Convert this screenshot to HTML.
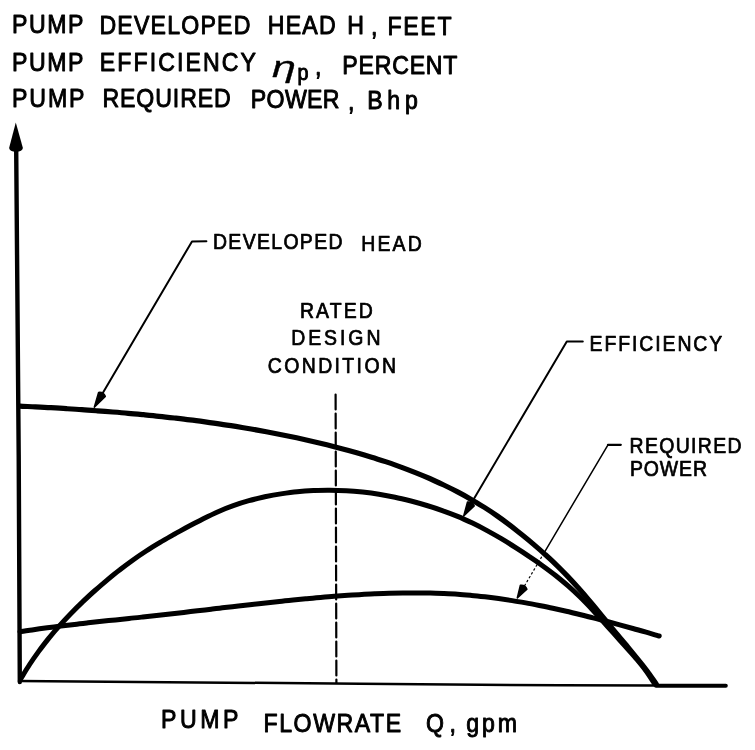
<!DOCTYPE html>
<html><head><meta charset="utf-8"><title>Pump performance curves</title>
<style>
html,body{margin:0;padding:0;background:#fff;}
svg{display:block;}
text{font-family:"Liberation Sans",sans-serif;fill:#000;stroke:#000;stroke-width:0.95;stroke-linejoin:round;}
text.l{stroke-width:0.75;}
text.i{font-style:italic;stroke-width:0.3;}
.c{fill:none;stroke:#000;stroke-linecap:round;stroke-linejoin:round;}
</style></head><body>
<svg width="755" height="750" viewBox="0 0 755 750">
<rect width="755" height="750" fill="#fff"/>
<!-- axes -->
<path class="c" d="M16.2 150 L18.7 455 L19.8 682" stroke-width="4.4" stroke-linecap="butt"/>
<path d="M15.8 122.5 L22.9 148 Q22.5 151.5 16 151.8 Q9.5 151.5 9.1 148 Z" fill="#000"/>
<path class="c" d="M19 681 L360 683.7 L560 685.3 L656 685.6" stroke-width="2.5" stroke-linecap="square"/>
<path class="c" d="M656 685.8 L725.8 685.8" stroke-width="4"/>
<!-- rated design condition marker -->
<path class="c" d="M335.6 394.5 L336.4 683" stroke-width="2.2" stroke-dasharray="15 4" stroke-linecap="butt"/>
<!-- curves -->
<path class="c" d="M20.0 406.1 C22.6 406.3 30.3 406.6 35.5 406.9 C40.6 407.2 45.8 407.5 50.9 407.7 C56.1 408.0 61.2 408.3 66.4 408.7 C71.5 409.0 76.7 409.3 81.8 409.7 C87.0 410.0 92.1 410.4 97.3 410.8 C102.4 411.1 107.6 411.5 112.7 412.0 C117.9 412.4 123.0 412.8 128.2 413.3 C133.3 413.7 138.4 414.2 143.6 414.7 C148.7 415.2 153.9 415.7 159.0 416.3 C164.1 416.8 169.3 417.4 174.4 418.0 C179.5 418.6 184.7 419.2 189.8 419.9 C194.9 420.5 200.0 421.2 205.1 421.9 C210.3 422.6 215.4 423.3 220.5 424.1 C225.6 424.8 230.7 425.6 235.8 426.4 C240.9 427.3 246.0 428.1 251.1 429.0 C256.1 429.9 261.2 430.8 266.3 431.7 C271.4 432.7 276.4 433.7 281.5 434.7 C286.5 435.7 291.6 436.8 296.6 437.8 C301.7 438.9 306.7 440.1 311.7 441.2 C316.8 442.4 321.8 443.6 326.8 444.8 C331.8 446.1 336.8 447.4 341.8 448.7 C346.8 450.0 351.8 451.4 356.7 452.8 C361.7 454.2 366.7 455.7 371.6 457.2 C376.5 458.7 381.4 460.3 386.3 461.9 C391.2 463.6 396.1 465.3 401.0 467.1 C405.8 468.8 410.6 470.7 415.4 472.6 C420.2 474.5 425.0 476.5 429.7 478.5 C434.4 480.6 439.1 482.8 443.8 485.0 C448.4 487.2 453.0 489.5 457.6 491.9 C462.2 494.3 466.7 496.8 471.2 499.4 C475.6 502.0 480.0 504.7 484.4 507.4 C488.8 510.2 493.0 513.0 497.3 516.0 C501.5 518.9 505.7 522.0 509.8 525.1 C513.9 528.2 517.9 531.5 522.0 534.7 C526.0 537.9 530.0 541.2 533.9 544.6 C537.8 547.9 541.7 551.3 545.5 554.8 C549.4 558.2 553.1 561.8 556.8 565.4 C560.5 569.0 564.1 572.7 567.7 576.4 C571.2 580.1 574.7 583.9 578.2 587.8 C581.6 591.6 585.0 595.5 588.3 599.4 C591.7 603.3 595.0 607.3 598.3 611.3 C601.6 615.3 604.8 619.3 608.1 623.3 C611.4 627.3 614.6 631.3 617.9 635.2 C621.2 639.2 624.6 643.2 627.9 647.1 C631.2 651.1 634.5 655.1 637.7 659.1 C641.0 663.1 644.2 667.1 647.3 671.2 C650.3 675.4 654.7 681.8 656.2 683.9" stroke-width="5.2"/>
<path class="c" d="M20.9 678.5 C22.4 676.1 26.6 669.1 29.6 664.5 C32.6 659.9 35.7 655.5 38.9 651.1 C42.1 646.7 45.5 642.4 48.9 638.1 C52.4 633.9 55.9 629.8 59.6 625.7 C63.2 621.6 66.9 617.6 70.7 613.7 C74.5 609.8 78.4 605.9 82.4 602.1 C86.3 598.4 90.3 594.6 94.4 591.0 C98.5 587.4 102.6 583.8 106.8 580.3 C111.0 576.8 115.2 573.3 119.6 570.0 C123.9 566.6 128.2 563.4 132.7 560.2 C137.1 557.0 141.6 554.0 146.2 551.0 C150.7 548.0 155.4 545.2 160.1 542.4 C164.8 539.6 169.6 536.9 174.3 534.2 C179.1 531.6 183.9 528.9 188.8 526.3 C193.6 523.8 198.4 521.2 203.3 518.7 C208.2 516.3 213.1 513.9 218.1 511.7 C223.1 509.5 228.1 507.4 233.3 505.6 C238.4 503.8 243.6 502.2 248.9 500.7 C254.1 499.2 259.5 498.0 264.8 496.8 C270.1 495.7 275.5 494.7 280.9 493.9 C286.3 493.1 291.8 492.3 297.2 491.8 C302.6 491.2 308.1 490.8 313.5 490.5 C319.0 490.3 324.5 490.1 329.9 490.2 C335.4 490.2 340.9 490.4 346.3 490.7 C351.8 491.0 357.2 491.5 362.6 492.1 C368.1 492.7 373.5 493.4 378.9 494.3 C384.3 495.2 389.7 496.2 395.0 497.3 C400.4 498.4 405.7 499.7 411.0 501.0 C416.3 502.4 421.5 503.9 426.8 505.5 C432.0 507.1 437.2 508.8 442.3 510.6 C447.4 512.4 452.5 514.3 457.6 516.4 C462.6 518.5 467.6 520.8 472.5 523.1 C477.4 525.5 482.2 528.0 487.1 530.6 C491.9 533.2 496.6 535.9 501.3 538.7 C506.0 541.5 510.7 544.4 515.3 547.4 C519.9 550.3 524.5 553.3 529.0 556.4 C533.6 559.4 538.1 562.5 542.5 565.7 C546.9 568.9 551.3 572.1 555.6 575.5 C559.8 578.9 564.0 582.3 568.1 585.9 C572.2 589.5 576.2 593.2 580.1 597.1 C584.0 600.9 587.7 604.8 591.5 608.8 C595.2 612.8 598.9 616.9 602.5 620.9 C606.2 625.0 609.8 629.1 613.5 633.2 C617.1 637.3 620.8 641.3 624.4 645.4 C628.1 649.5 631.8 653.5 635.3 657.6 C638.8 661.8 642.3 665.9 645.5 670.3 C648.8 674.7 653.2 681.7 654.7 683.9" stroke-width="5"/>
<path class="c" d="M20.0 631.8 C22.2 631.4 29.0 630.4 33.6 629.7 C38.1 629.0 42.6 628.4 47.2 627.8 C51.7 627.2 56.3 626.6 60.8 626.0 C65.4 625.5 69.9 624.9 74.5 624.4 C79.0 623.8 83.6 623.3 88.1 622.8 C92.7 622.3 97.2 621.8 101.8 621.3 C106.4 620.8 110.9 620.4 115.5 619.9 C120.0 619.4 124.6 618.9 129.1 618.4 C133.7 618.0 138.2 617.5 142.8 617.0 C147.3 616.5 151.9 616.0 156.5 615.5 C161.0 615.0 165.6 614.5 170.1 614.0 C174.7 613.5 179.2 612.9 183.8 612.4 C188.3 611.9 192.9 611.3 197.4 610.8 C202.0 610.3 206.5 609.8 211.1 609.2 C215.6 608.7 220.2 608.2 224.7 607.6 C229.3 607.1 233.8 606.6 238.4 606.0 C242.9 605.5 247.5 605.0 252.0 604.5 C256.6 604.0 261.1 603.4 265.7 602.9 C270.3 602.4 274.8 601.9 279.4 601.4 C283.9 601.0 288.5 600.5 293.1 600.0 C297.6 599.6 302.2 599.1 306.8 598.7 C311.4 598.2 315.9 597.8 320.5 597.4 C325.1 597.0 329.7 596.6 334.2 596.3 C338.8 595.9 343.4 595.6 348.0 595.2 C352.5 594.9 357.1 594.6 361.7 594.4 C366.3 594.1 370.9 593.9 375.4 593.7 C380.0 593.5 384.6 593.3 389.2 593.2 C393.7 593.1 398.3 593.0 402.9 592.9 C407.5 592.9 412.0 592.9 416.6 592.9 C421.2 592.9 425.7 593.0 430.3 593.1 C434.9 593.2 439.4 593.4 444.0 593.6 C448.6 593.8 453.1 594.0 457.7 594.3 C462.3 594.6 466.8 595.0 471.4 595.4 C475.9 595.8 480.5 596.3 485.0 596.8 C489.5 597.3 494.1 597.9 498.6 598.5 C503.2 599.2 507.7 599.9 512.2 600.6 C516.8 601.3 521.3 602.1 525.8 602.9 C530.3 603.7 534.8 604.6 539.3 605.5 C543.8 606.4 548.3 607.3 552.8 608.3 C557.3 609.3 561.8 610.3 566.3 611.3 C570.8 612.4 575.3 613.4 579.7 614.5 C584.2 615.6 588.7 616.7 593.1 617.9 C597.6 619.0 602.0 620.2 606.4 621.3 C610.9 622.5 615.3 623.7 619.7 624.9 C624.1 626.1 628.5 627.3 632.9 628.5 C637.3 629.8 641.7 631.0 646.1 632.2 C650.5 633.5 657.0 635.3 659.2 636.0" stroke-width="5"/>
<!-- leaders -->
<path class="c" d="M206.4 241.3 L192 241.4 L99.4 398.7" stroke-width="2"/>
<path d="M94.3 407.3 L105.3 396.4 Q103.4 391.8 98.6 392.4 Z" fill="#000" stroke="#000" stroke-width="1.5" stroke-linejoin="round"/>
<path class="c" d="M582.8 341.4 L566.8 341.4 L468.8 507.4" stroke-width="2"/>
<path d="M463.7 516.0 L474.2 505.9 Q472.3 501.4 467.5 502.0 Z" fill="#000" stroke="#000" stroke-width="1.5" stroke-linejoin="round"/>
<path class="c" d="M620.8 444.8 L608 444.8" stroke-width="2.2"/>
<path class="c" d="M608 444.8 L543.8 553.3" stroke-width="1.5"/>
<path class="c" d="M543.8 553.3 L524.4 586.0" stroke-width="1.2" stroke-dasharray="1.5 3"/>
<path d="M517.3 598.0 L526.9 589.2 Q525.2 584.7 520.4 585.3 Z" fill="#000" stroke="#000" stroke-width="1.5" stroke-linejoin="round"/>
<!-- labels -->
<text transform="translate(12.1 32.8) scale(0.9 1)" font-size="25.7" textLength="79.3" lengthAdjust="spacing">PUMP</text>
<text transform="translate(99.4 33.9) scale(0.9 1)" font-size="25.7" textLength="167.8" lengthAdjust="spacing">DEVELOPED</text>
<text transform="translate(267.8 34.3) scale(0.9 1)" font-size="25.7" textLength="75.4" lengthAdjust="spacing">HEAD</text>
<text transform="translate(347.2 34.3) scale(0.9 1)" font-size="25.7">H</text>
<text transform="translate(371.0 34.5) scale(0.9 1)" font-size="25.7">,</text>
<text transform="translate(387.5 34.6) scale(0.9 1)" font-size="25.7" textLength="71.2" lengthAdjust="spacing">FEET</text>
<text transform="translate(12.1 70.6) scale(0.9 1)" font-size="25.7" textLength="79.3" lengthAdjust="spacing">PUMP</text>
<text transform="translate(99.8 71.0) scale(0.9 1)" font-size="25.7" textLength="173.6" lengthAdjust="spacing">EFFICIENCY</text>
<text transform="translate(272.1 76.5) scale(1.46 1)" font-size="29.5" class="i">η</text>
<text transform="translate(297.6 80.0) scale(0.9 1)" font-size="22">p</text>
<text transform="translate(314.9 75.0) scale(0.9 1)" font-size="25.7">,</text>
<text transform="translate(342.2 74.0) scale(0.9 1)" font-size="25.7" textLength="128.1" lengthAdjust="spacing">PERCENT</text>
<text transform="translate(12.1 107.0) scale(0.9 1)" font-size="25.7" textLength="80.4" lengthAdjust="spacing">PUMP</text>
<text transform="translate(102.4 107.3) scale(0.9 1)" font-size="25.7" textLength="142.7" lengthAdjust="spacing">REQUIRED</text>
<text transform="translate(250.8 108.3) scale(0.9 1)" font-size="25.7" textLength="98.6" lengthAdjust="spacing">POWER</text>
<text transform="translate(348.0 109.8) scale(0.9 1)" font-size="25.7">,</text>
<text transform="translate(367.2 109.0) scale(0.9 1)" font-size="25.7" textLength="56.2" lengthAdjust="spacing">Bhp</text>
<text transform="translate(213.0 249.2) scale(0.9 1)" font-size="21.6" textLength="143.9" lengthAdjust="spacing" class="l">DEVELOPED</text>
<text transform="translate(361.2 251.0) scale(0.9 1)" font-size="21.6" textLength="67.3" lengthAdjust="spacing" class="l">HEAD</text>
<text transform="translate(299.9 318.3) scale(0.9 1)" font-size="21.6" textLength="81.1" lengthAdjust="spacing" class="l">RATED</text>
<text transform="translate(291.2 345.3) scale(0.9 1)" font-size="21.6" textLength="99.2" lengthAdjust="spacing" class="l">DESIGN</text>
<text transform="translate(267.8 373.3) scale(0.9 1)" font-size="21.6" textLength="142.4" lengthAdjust="spacing" class="l">CONDITION</text>
<text transform="translate(589.6 350.8) scale(0.9 1)" font-size="21.6" textLength="147.4" lengthAdjust="spacing" class="l">EFFICIENCY</text>
<text transform="translate(629.6 453.2) scale(0.9 1)" font-size="21.6" textLength="124.4" lengthAdjust="spacing" class="l">REQUIRED</text>
<text transform="translate(630.0 476.2) scale(0.9 1)" font-size="21.6" textLength="85.5" lengthAdjust="spacing" class="l">POWER</text>
<text transform="translate(161.1 728.3) scale(0.9 1)" font-size="25.7" textLength="86.0" lengthAdjust="spacing">PUMP</text>
<text transform="translate(263.5 731.5) scale(0.9 1)" font-size="25.7" textLength="153.0" lengthAdjust="spacing">FLOWRATE</text>
<text transform="translate(425.9 731.7) scale(0.9 1)" font-size="25.7">Q</text>
<text transform="translate(449.5 731.7) scale(0.9 1)" font-size="25.7">,</text>
<text transform="translate(466.2 731.7) scale(0.9 1)" font-size="25.7" textLength="56.4" lengthAdjust="spacing">gpm</text>
</svg>
</body></html>
